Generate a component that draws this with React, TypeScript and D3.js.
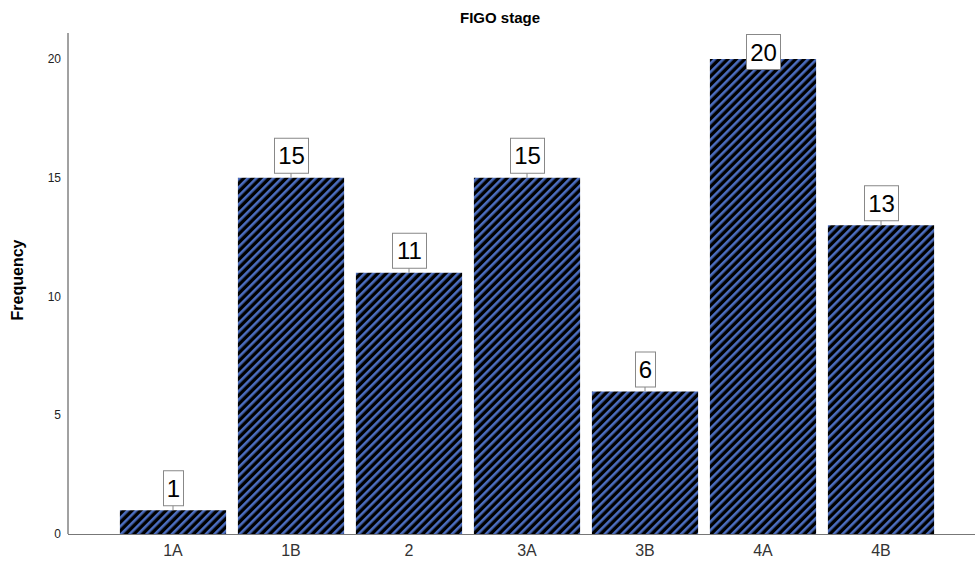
import React, { useRef, useEffect } from 'react';
import * as d3 from 'd3';

const stages = ['1A', '1B', '2', '3A', '3B', '4A', '4B'];
const counts = [1, 15, 11, 15, 6, 20, 13];
const yTicks = [0, 5, 10, 15, 20];

const W = 975;
const H = 565;

const App = () => {
  const svgRef = useRef<SVGSVGElement>(null);

  useEffect(() => {
    const svg = d3.select(svgRef.current);
    svg.selectAll('*').remove();

    const left = 68;
    const base = 534;
    const top = 33;

    const y = d3.scaleLinear().domain([0, 20]).range([base, 59]);
    const x = d3.scaleBand()
      .domain(stages)
      .range([114, 940])
      .paddingInner(0.1)
      .paddingOuter(0.05);

    // diagonal stripes used as bar fill
    const p = 6;
    const defs = svg.append('defs');
    const pat = defs.append('pattern')
      .attr('id', 'stripes')
      .attr('patternUnits', 'userSpaceOnUse')
      .attr('width', p)
      .attr('height', p)
      .attr('patternTransform', 'rotate(45)');
    pat.append('rect').attr('width', p).attr('height', p).attr('fill', '#000');
    pat.append('rect').attr('x', 0).attr('width', 2.6).attr('height', p).attr('fill', '#4c6ec0');

    svg.append('text')
      .attr('x', 500).attr('y', 23)
      .attr('text-anchor', 'middle')
      .attr('font-family', 'Arial, "Liberation Sans", sans-serif')
      .attr('font-weight', 'bold')
      .attr('font-size', 15)
      .text('FIGO stage');

    svg.append('text')
      .attr('transform', `translate(23,280) rotate(-90)`)
      .attr('text-anchor', 'middle')
      .attr('font-family', 'Arial, "Liberation Sans", sans-serif')
      .attr('font-weight', 'bold')
      .attr('font-size', 16)
      .text('Frequency');

    // bars
    svg.selectAll('.bar')
      .data(counts)
      .enter().append('rect')
      .attr('class', 'bar')
      .attr('x', (d, i) => x(stages[i]))
      .attr('y', d => y(d))
      .attr('width', x.bandwidth())
      .attr('height', d => base - y(d))
      .attr('fill', 'url(#stripes)');

    // axes
    svg.append('line')
      .attr('x1', left).attr('x2', left)
      .attr('y1', top).attr('y2', base)
      .attr('stroke', '#444').attr('stroke-width', 1);
    svg.append('line')
      .attr('x1', left).attr('x2', W)
      .attr('y1', base + 0.5).attr('y2', base + 0.5)
      .attr('stroke', '#777').attr('stroke-width', 1);

    svg.selectAll('.ytick')
      .data(yTicks)
      .enter().append('text')
      .attr('class', 'ytick')
      .attr('x', 61)
      .attr('y', d => y(d) + 4)
      .attr('text-anchor', 'end')
      .attr('font-family', 'Arial, "Liberation Sans", sans-serif')
      .attr('font-size', 12)
      .attr('fill', '#222')
      .text(d => d);

    svg.selectAll('.xtick')
      .data(stages)
      .enter().append('text')
      .attr('class', 'xtick')
      .attr('x', d => x(d) + x.bandwidth() / 2)
      .attr('y', 556)
      .attr('text-anchor', 'middle')
      .attr('font-family', 'Arial, "Liberation Sans", sans-serif')
      .attr('font-size', 16)
      .attr('fill', '#333')
      .text(d => d);

    // value labels in boxes
    const boxH = 35;
    const gap = 5;
    const lab = svg.selectAll('.lab')
      .data(counts)
      .enter().append('g')
      .attr('class', 'lab');

    lab.each(function (d, i) {
      const g = d3.select(this);
      const cx = x(stages[i]) + x.bandwidth() / 2;
      const bw = String(d).length > 1 ? 34 : 20;
      let by = y(d) - gap - boxH;
      if (by < 34) by = 34;
      if (by + boxH < y(d)) {
        g.append('line')
          .attr('x1', cx).attr('x2', cx)
          .attr('y1', by + boxH).attr('y2', y(d))
          .attr('stroke', '#888');
      }
      g.append('rect')
        .attr('x', cx - bw / 2 + 0.5).attr('y', by + 0.5)
        .attr('width', bw).attr('height', boxH)
        .attr('fill', '#fff').attr('stroke', '#888');
      g.append('text')
        .attr('x', cx + 0.5).attr('y', by + boxH / 2 + 9)
        .attr('text-anchor', 'middle')
        .attr('font-family', 'Arial, "Liberation Sans", sans-serif')
        .attr('font-size', 24)
        .attr('fill', '#000')
        .text(d);
    });
  }, []);

  return (
    <svg ref={svgRef} width={W} height={H} style={{ position: 'absolute', left: 0, top: 0, background: '#fff' }} />
  );
};

export default App;
